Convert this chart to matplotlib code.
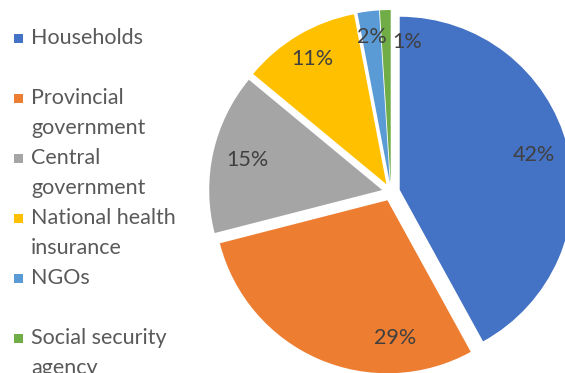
import math
import matplotlib
matplotlib.use("Agg")
import matplotlib.pyplot as plt
from matplotlib.patches import Rectangle

categories = ["Households", "Provincial government", "Central government",
              "National health insurance", "NGOs", "Social security agency"]
legend_lines = [["Households"], ["Provincial", "government"], ["Central", "government"],
                ["National health", "insurance"], ["NGOs"], ["Social security", "agency"]]
values = [42, 29, 15, 11, 2, 1]
colors = ["#4472C4", "#ED7D31", "#A5A5A5", "#FFC000", "#5B9BD5", "#70AD47"]

# label placement styles (angle override in degrees, distance fraction)
label_angle = [None, -87, None, None, None, 83.5]
label_dist = [0.80, 0.80, 0.80, 0.84, 0.85, 0.82]

FONT = "Lato"
W, H = 565, 373
fig = plt.figure(figsize=(W / 100, H / 100), dpi=100)
ax = fig.add_axes([0, 0, 1, 1])

R = 173
cx, cy = 391, H - 192
expl = 9
wedges, _ = ax.pie(values, colors=colors, startangle=90, counterclock=False,
                   radius=R, center=(cx, cy), explode=[expl] * len(values),
                   wedgeprops=dict(linewidth=0), frame=True)
ax.set_xlim(0, W)
ax.set_ylim(0, H)
ax.set_aspect("equal")
ax.axis("off")

for w, v, la, ld in zip(wedges, values, label_angle, label_dist):
    mid = math.radians((w.theta1 + w.theta2) / 2)
    wx, wy = w.center
    ang = mid if la is None else math.radians(la)
    ax.text(wx + ld * R * math.cos(ang), wy + ld * R * math.sin(ang), f"{v}%",
            ha="center", va="center", fontsize=15.5, color="#404040", family=FONT)

# legend
y0, pitch, line = 38, 60, 30
for i, (lines, c) in enumerate(zip(legend_lines, colors)):
    y = y0 + i * pitch
    ax.add_patch(Rectangle((14, H - y - 4.5), 9, 9, color=c, lw=0))
    for j, t in enumerate(lines):
        ax.text(31, H - (y + j * line), t, ha="left", va="center",
                fontsize=15.5, color="#595959", family=FONT)

fig.savefig("out.png", dpi=100)
